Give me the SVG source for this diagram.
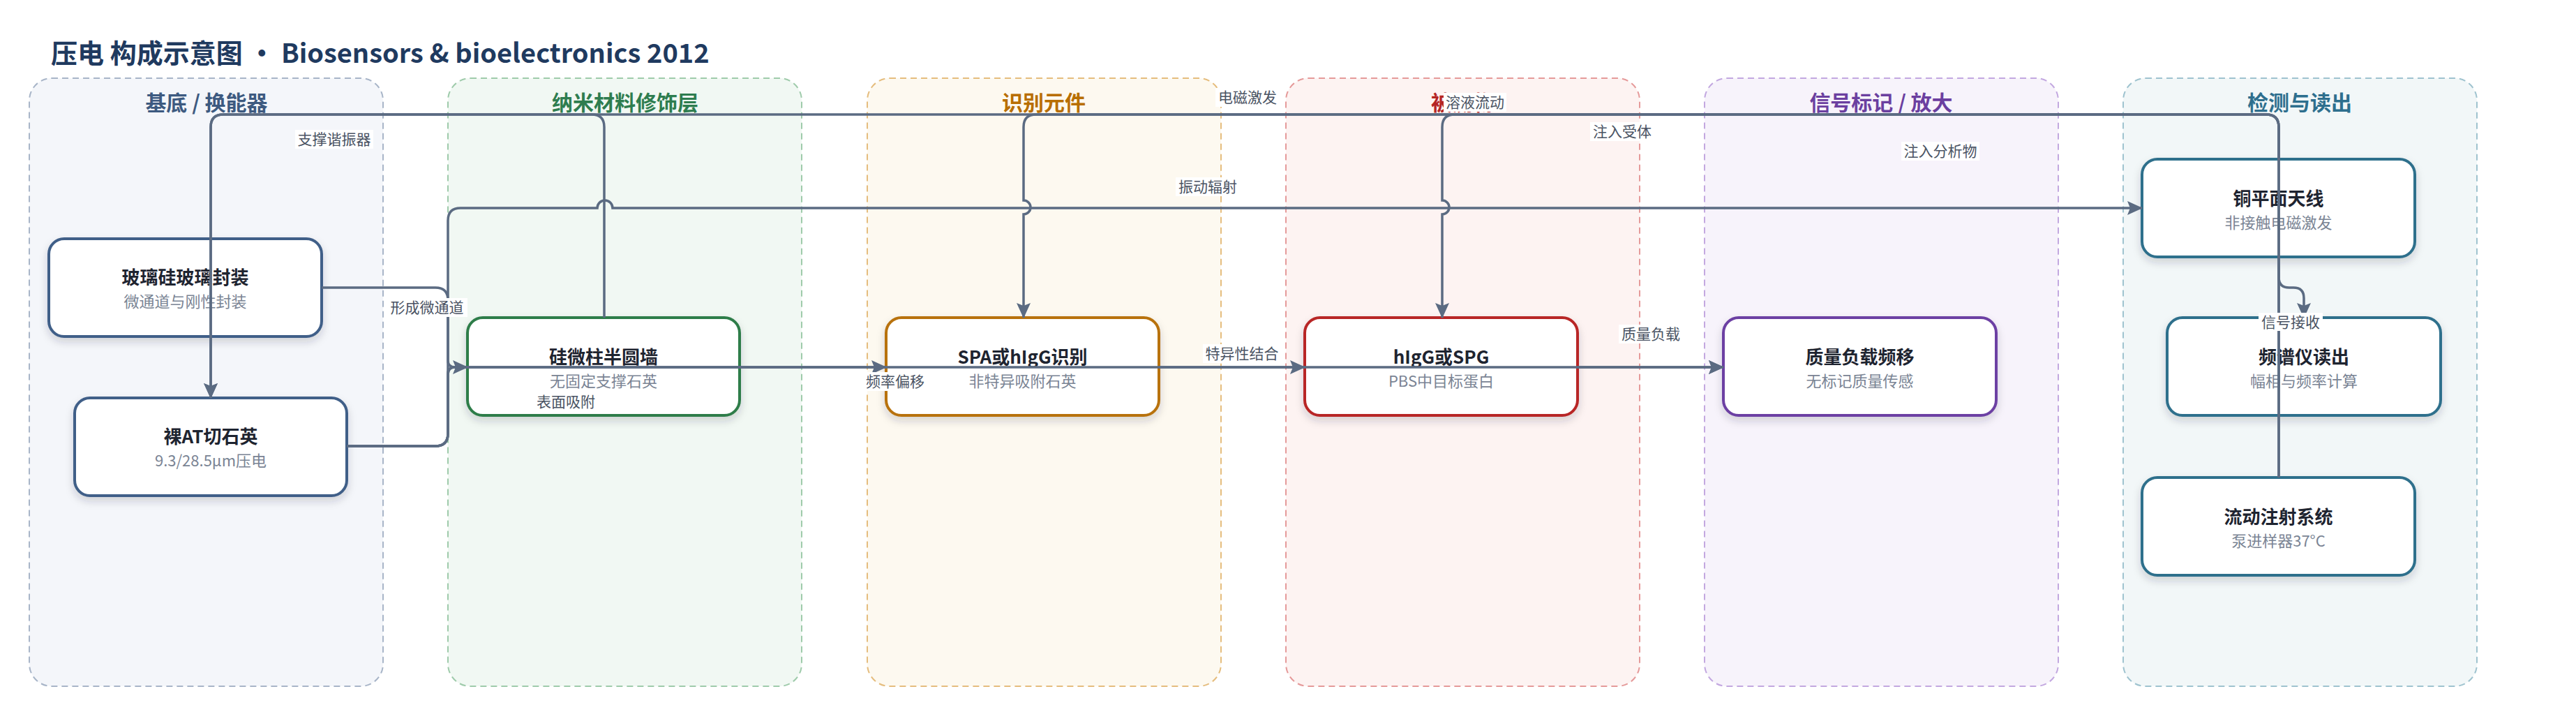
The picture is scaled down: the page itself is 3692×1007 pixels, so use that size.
<svg xmlns="http://www.w3.org/2000/svg" width="3692" height="1007" viewBox="0 0 3692 1007">
<defs>
<filter id="sh" x="-10%" y="-10%" width="120%" height="140%">
<feDropShadow dx="0" dy="6" stdDeviation="6" flood-color="#1e2a3a" flood-opacity="0.18"/>
</filter>
<marker id="arr" markerUnits="userSpaceOnUse" markerWidth="22" markerHeight="22" viewBox="0 0 22 22" refX="21" refY="11" orient="auto">
<path d="M0,1 L22,11 L0,21 L4,11 z" fill="#5b6b82"/>
</marker>
</defs>
<style>
text{font-family:"Noto Sans CJK SC","Noto Sans",sans-serif}
.title{font-size:38px;font-weight:700;fill:#1f3a5f}
.lane{stroke-width:2;stroke-dasharray:9 6}
.lt{font-size:30px;font-weight:700;text-anchor:middle}
.node{fill:#fff;stroke-width:4;filter:url(#sh)}
.nt{font-size:26px;font-weight:700;fill:#1e2430;text-anchor:middle}
.ns{font-size:22px;fill:#7a8494;text-anchor:middle}
.e{fill:none;stroke:#5b6b82;stroke-width:3.5}
.ea{marker-end:url(#arr)}
.lb{fill:#fff}
.el{font-size:21px;fill:#4a5363;text-anchor:middle}
</style>
<rect width="3692" height="1007" fill="#fff"/>
<text class="title" x="73" y="90">压电 构成示意图 · Biosensors &amp; bioelectronics 2012</text>

<g id="lanes">
<g id="lane-substrate"><rect class="lane" x="42" y="112" width="507" height="871" rx="32" fill="#f4f6fa" stroke="#a8b5c8"/><text class="lt" x="296" y="158" fill="#3d5a80">基底 / 换能器</text></g>
<g id="lane-nano"><rect class="lane" x="642" y="112" width="507" height="871" rx="32" fill="#f1f8f3" stroke="#9fcbab"/><text class="lt" x="896" y="158" fill="#2e7d4f">纳米材料修饰层</text></g>
<g id="lane-recog"><rect class="lane" x="1243" y="112" width="507" height="871" rx="32" fill="#fdf9f0" stroke="#e5bd7e"/><text class="lt" x="1496" y="158" fill="#b86e00">识别元件</text></g>
<g id="lane-analyte"><rect class="lane" x="1843" y="112" width="507" height="871" rx="32" fill="#fdf3f2" stroke="#e59a9a"/><text class="lt" x="2096" y="158" fill="#b52525">被测物</text></g>
<g id="lane-signal"><rect class="lane" x="2443" y="112" width="507" height="871" rx="32" fill="#f7f3fb" stroke="#c3a8e0"/><text class="lt" x="2696" y="158" fill="#6b3fa0">信号标记 / 放大</text></g>
<g id="lane-detect"><rect class="lane" x="3043" y="112" width="507" height="871" rx="32" fill="#f2f7f8" stroke="#9fc3cf"/><text class="lt" x="3296" y="158" fill="#2e6f8e">检测与读出</text></g>
</g>

<g id="nodes">
<g id="n-glass"><rect class="node" x="70" y="342" width="391" height="140" rx="22" stroke="#3f5e88"/><text class="nt" x="265.5" y="407">玻璃硅玻璃封装</text><text class="ns" x="265.5" y="440">微通道与刚性封装</text></g>
<g id="n-quartz"><rect class="node" x="107" y="570" width="390" height="140" rx="22" stroke="#3f5e88"/><text class="nt" x="302" y="635">裸AT切石英</text><text class="ns" x="302" y="668">9.3/28.5µm压电</text></g>
<g id="n-pillar"><rect class="node" x="670" y="455" width="390" height="140" rx="22" stroke="#2f7d4a"/><text class="nt" x="865" y="521">硅微柱半圆墙</text><text class="ns" x="865" y="554">无固定支撑石英</text></g>
<g id="n-spa"><rect class="node" x="1270" y="455" width="391" height="140" rx="22" stroke="#b8720c"/><text class="nt" x="1465.5" y="521">SPA或hIgG识别</text><text class="ns" x="1465.5" y="554">非特异吸附石英</text></g>
<g id="n-higg"><rect class="node" x="1870" y="455" width="391" height="140" rx="22" stroke="#b82525"/><text class="nt" x="2065.5" y="521">hIgG或SPG</text><text class="ns" x="2065.5" y="554">PBS中目标蛋白</text></g>
<g id="n-mass"><rect class="node" x="2470" y="455" width="391" height="140" rx="22" stroke="#6c3fa3"/><text class="nt" x="2665.5" y="521">质量负载频移</text><text class="ns" x="2665.5" y="554">无标记质量传感</text></g>
<g id="n-antenna"><rect class="node" x="3070" y="228" width="391" height="140" rx="22" stroke="#2f6f8c"/><text class="nt" x="3265.5" y="294">铜平面天线</text><text class="ns" x="3265.5" y="327">非接触电磁激发</text></g>
<g id="n-spectrum"><rect class="node" x="3106" y="455" width="392" height="140" rx="22" stroke="#2f6f8c"/><text class="nt" x="3302" y="521">频谱仪读出</text><text class="ns" x="3302" y="554">幅相与频率计算</text></g>
<g id="n-flow"><rect class="node" x="3070" y="684" width="391" height="140" rx="22" stroke="#2f6f8c"/><text class="nt" x="3265.5" y="750">流动注射系统</text><text class="ns" x="3265.5" y="783">泵进样器37°C</text></g>
</g>

<g id="connectors">
<path class="e ea" d="M866,455 V182 Q866,164 848,164 H320 Q302,164 302,182 V570"/>
<path class="e ea" d="M3266,228 V182 Q3266,164 3248,164 H320 Q302,164 302,182 V570"/>
<path class="e ea" d="M3266,684 V182 Q3266,164 3248,164 H1485 Q1467,164 1467,182 V287 A10,10 0 0 1 1467,307 V455"/>
<path class="e ea" d="M3266,684 V182 Q3266,164 3248,164 H2085 Q2067,164 2067,182 V287 A10,10 0 0 1 2067,307 V455"/>
<path class="e ea" d="M3266,368 V397 Q3266,412 3281,412 H3287 Q3302,412 3302,427 V455"/>
<path class="e ea" d="M461,412 H624 Q642,412 642,430 V516 Q642,526 652,526 H670"/>
<path class="e ea" d="M497,639 H624 Q642,639 642,621 V316 Q642,298 660,298 H856 A11,11 0 0 1 878,298 H3070"/>
<path class="e ea" d="M497,639 H624 Q642,639 642,621 V536 Q642,526 652,526 H1270"/>
<path class="e ea" d="M1661,526 H1870"/>
<path class="e ea" d="M2261,526 H2470"/>
<path class="e ea" d="M497,639 H624 Q642,639 642,621 V536 Q642,526 652,526 H2470"/>
</g>

<g id="edge-labels">
<rect class="lb" x="423" y="186" width="112" height="27"/><text class="el" x="479" y="207">支撑谐振器</text>
<rect class="lb" x="554" y="427" width="116" height="27"/><text class="el" x="612" y="448">形成微通道</text>
<rect class="lb" x="765" y="562" width="92" height="27"/><text class="el" x="811" y="583">表面吸附</text>
<rect class="lb" x="1742" y="126" width="92" height="27"/><text class="el" x="1788" y="147">电磁激发</text>
<rect class="lb" x="2069" y="133" width="90" height="27"/><text class="el" x="2114" y="154">溶液流动</text>
<rect class="lb" x="2279" y="175" width="92" height="27"/><text class="el" x="2325" y="196">注入受体</text>
<rect class="lb" x="2725" y="203" width="112" height="27"/><text class="el" x="2781" y="224">注入分析物</text>
<rect class="lb" x="1685" y="254" width="92" height="27"/><text class="el" x="1731" y="275">振动辐射</text>
<rect class="lb" x="1237" y="533" width="92" height="27"/><text class="el" x="1283" y="554">频率偏移</text>
<rect class="lb" x="1724" y="493" width="112" height="27"/><text class="el" x="1780" y="514">特异性结合</text>
<rect class="lb" x="2320" y="465" width="92" height="27"/><text class="el" x="2366" y="486">质量负载</text>
<rect class="lb" x="3237" y="448" width="92" height="26"/><text class="el" x="3283" y="469">信号接收</text>
</g>
</svg>
